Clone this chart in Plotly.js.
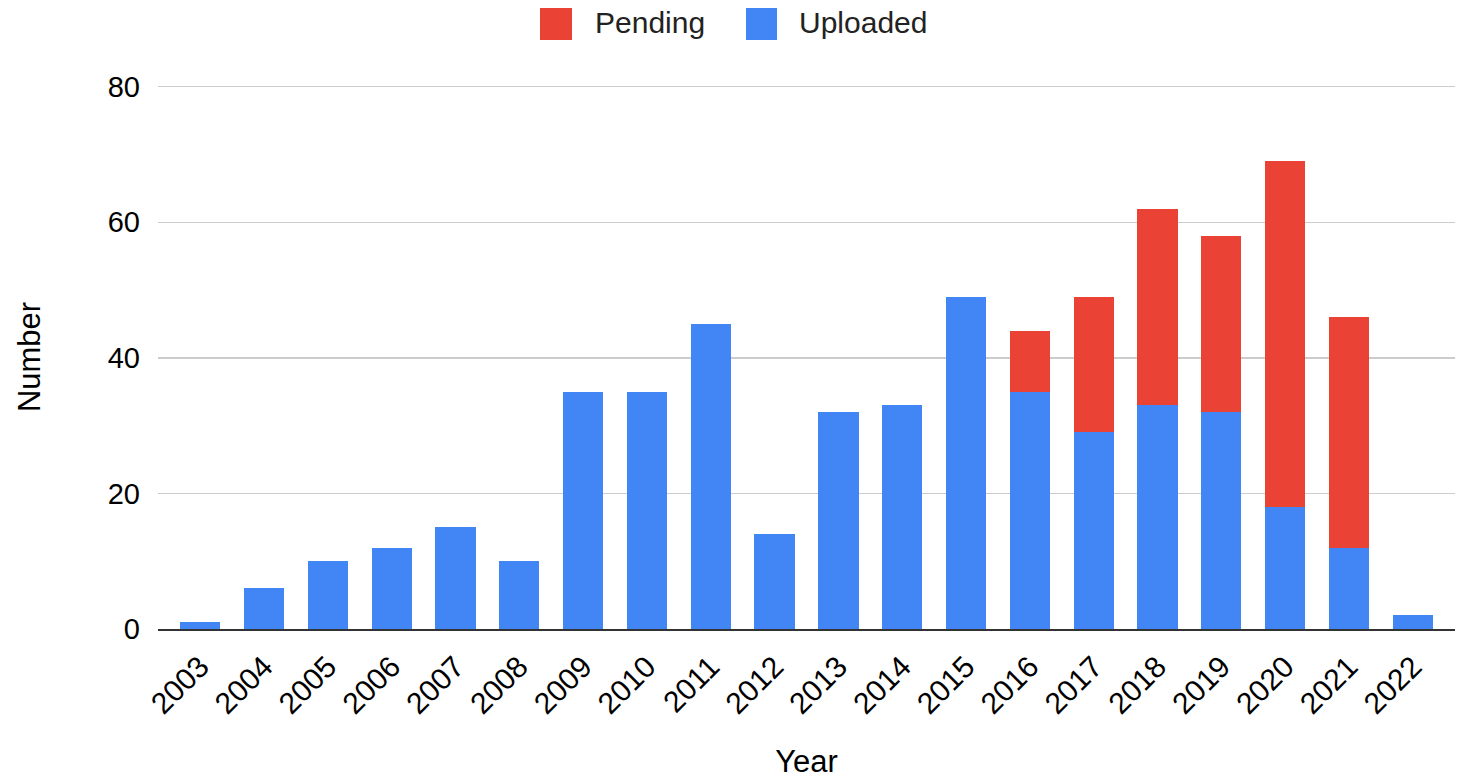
<!DOCTYPE html>
<html>
<head>
<meta charset="utf-8">
<script src="https://cdn.plot.ly/plotly-3.0.1.min.js"></script>
<style>html,body{margin:0;padding:0;background:#fff;}#chart{width:1465px;height:779px;}</style>
</head>
<body>
<div id="chart"></div>
<script>
var years = ["2003","2004","2005","2006","2007","2008","2009","2010","2011","2012","2013","2014","2015","2016","2017","2018","2019","2020","2021","2022"];
var uploaded = [1,6,10,12,15,10,35,35,45,14,32,33,49,35,29,33,32,18,12,2];
var pending = [0,0,0,0,0,0,0,0,0,0,0,0,0,9,20,29,26,51,34,0];
var yTicks = [0,20,40,60,80];
var seriesNames = ["Uploaded","Pending"];
var seriesColors = ["#4285F4","#EA4335"];

var traces = [
  {type:"bar", name:seriesNames[0], x:years, y:uploaded, marker:{color:seriesColors[0]}},
  {type:"bar", name:seriesNames[1], x:years, y:pending, marker:{color:seriesColors[1]}}
];
var font = "Liberation Sans, Arial, sans-serif";

// custom legend (big squares like the reference), in paper coordinates
// plot area: x 158..1455 px, y 85..629 px
function px2x(px){ return (px-158)/1297; }
function py2y(py){ return (629-py)/544; }
var legendItems = [
  {name:seriesNames[1], color:seriesColors[1], s0:540, s1:572, t:593},
  {name:seriesNames[0], color:seriesColors[0], s0:746, s1:777, t:797}
];
var shapes = legendItems.map(function(it){
  return {type:"rect", xref:"paper", yref:"paper", x0:px2x(it.s0), x1:px2x(it.s1), y0:py2y(40), y1:py2y(8), fillcolor:it.color, line:{width:0}};
});
var annotations = legendItems.map(function(it){
  return {xref:"paper", yref:"paper", x:px2x(it.t), y:py2y(23), xanchor:"left", yanchor:"middle", text:it.name, showarrow:false, font:{size:30, color:"#222", family:font}};
});

var layout = {
  width:1465, height:779,
  barmode:"stack", bargap:0.37,
  margin:{l:158, r:10, t:85, b:150},
  paper_bgcolor:"#fff", plot_bgcolor:"#fff",
  font:{family:font, size:29, color:"#000"},
  showlegend:false,
  shapes:shapes, annotations:annotations,
  xaxis:{type:"category", range:[-0.66,19.66], tickangle:-45, tickfont:{size:30}, ticklabelstandoff:6, showgrid:false, zeroline:false, showline:true, linecolor:"#333", linewidth:2, ticks:"", title:{text:"Year", font:{size:31}, standoff:36}},
  yaxis:{range:[0,80.25], tickvals:yTicks, ticktext:yTicks.map(String), gridcolor:"#cccccc", gridwidth:1.5, zeroline:false, showline:false, ticks:"", ticklabelstandoff:17, tickfont:{size:29}, title:{text:"Number", font:{size:31}, standoff:57}}
};
Plotly.newPlot("chart", traces, layout, {displayModeBar:false, staticPlot:true});
</script>
</body>
</html>
